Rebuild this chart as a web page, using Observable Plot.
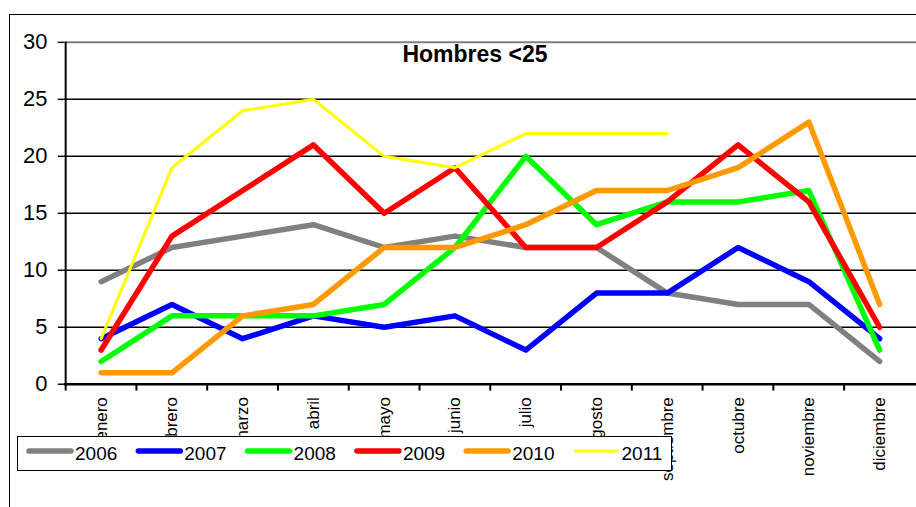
<!DOCTYPE html>
<html><head><meta charset="utf-8">
<script src="https://cdn.jsdelivr.net/npm/d3@7"></script>
<script src="https://cdn.jsdelivr.net/npm/@observablehq/plot@0.6"></script>
<style>
html,body{margin:0;padding:0;background:#fff;overflow:hidden;}
#wrap{position:relative;width:916px;height:507px;overflow:hidden;font-family:"Liberation Sans",Arial,sans-serif;}
#frame{position:absolute;left:9px;top:14px;width:1000px;height:600px;border-left:1.5px solid #000;border-top:1.5px solid #000;}
#chart{position:absolute;left:0;top:0;}
#overlay{position:absolute;left:0;top:0;}
</style>
</head><body>
<div id="wrap"><div id="frame"></div><div id="chart"></div><svg id="overlay" width="916" height="507"></svg></div>
<script>
const title = "Hombres <25";
const months = ["enero","febrero","marzo","abril","mayo","junio","julio","agosto","septiembre","octubre","noviembre","diciembre"];
const years = ["2006","2007","2008","2009","2010","2011"];
const colors = ["#808080","#0000FF","#00FF00","#FF0000","#FF9900","#FFFF00"];
const v2006 = [9,12,13,14,12,13,12,12,8,7,7,2];
const v2007 = [4,7,4,6,5,6,3,8,8,12,9,4];
const v2008 = [2,6,6,6,7,12,20,14,16,16,17,3];
const v2009 = [3,13,17,21,15,19,12,12,16,21,16,5];
const v2010 = [1,1,6,7,12,12,14,17,17,19,23,7];
const v2011 = [4,19,24,25,20,19,22,22,22,null,null,null];
const yTicks = [0,5,10,15,20,25,30];

const series = [v2006,v2007,v2008,v2009,v2010,v2011];
const rows = [];
years.forEach((yr,i)=>months.forEach((m,j)=>rows.push({year:yr, month:m, value:series[i][j]})));

const W = 919, ML = 64, MR = 0;
const step = (W - ML - MR) / months.length;
const widths = {"2011":3};

const chart = Plot.plot({
  width: W, height: 507,
  marginLeft: ML, marginRight: MR, marginTop: 42, marginBottom: 122,
  style: {fontFamily: '"Liberation Sans", Arial, sans-serif', color: "#000", background: "transparent", overflow: "visible"},
  x: {type: "point", domain: months, padding: 0.5, label: null},
  y: {domain: [0, 30], label: null},
  marks: [
    Plot.ruleY(yTicks.filter(t => t > 0 && t < 30), {stroke: "#000", strokeWidth: 1.5}),
    Plot.ruleY([30], {stroke: "#808080", strokeWidth: 2}),
    Plot.axisY({ticks: yTicks, tickSize: 6, tickPadding: 11, fontSize: 22, strokeWidth: 1.5, label: null}),
    Plot.axisX({tickSize: 0, tickRotate: -90, tickPadding: 13, fontSize: 17, label: null}),
    ...years.map((yr,i) => Plot.line(rows.filter(r => r.year === yr), {
      x: "month", y: "value", stroke: colors[i], strokeWidth: widths[yr] || 5.5,
      strokeLinejoin: "round", strokeLinecap: "round"
    })),
    Plot.ruleX([months[0]], {dx: -step/2, y1: 0, y2: 30, stroke: "#000", strokeWidth: 2}),
    Plot.ruleX(months, {x: d => d, dx: -step/2, y1: 0, y2: -0.6, stroke: "#000", strokeWidth: 2}),
    Plot.ruleY([0], {stroke: "#000", strokeWidth: 2.5})
  ]
});
document.getElementById("chart").appendChild(chart);

const ov = d3.select("#overlay");
ov.append("text").attr("x", 475).attr("y", 62).attr("text-anchor", "middle")
  .attr("font-family", '"Liberation Sans", Arial, sans-serif').attr("font-weight", "bold")
  .attr("font-size", 23).attr("fill", "#000").text(title);
const lg = ov.append("g").attr("transform", "translate(17,436)");
lg.append("rect").attr("x", 0.5).attr("y", 0.5).attr("width", 654).attr("height", 34)
  .attr("fill", "#fff").attr("stroke", "#000").attr("stroke-width", 1);
years.forEach((yr,i) => {
  const x0 = 12 + 109.3 * i;
  lg.append("line").attr("x1", x0).attr("x2", x0 + 42).attr("y1", 15).attr("y2", 15)
    .attr("stroke", colors[i]).attr("stroke-width", widths[yr] || 5.5).attr("stroke-linecap", "round");
  lg.append("text").attr("x", x0 + 46).attr("y", 24)
    .attr("font-family", '"Liberation Sans", Arial, sans-serif').attr("font-size", 19)
    .attr("fill", "#000").text(yr);
});
</script>
</body></html>
